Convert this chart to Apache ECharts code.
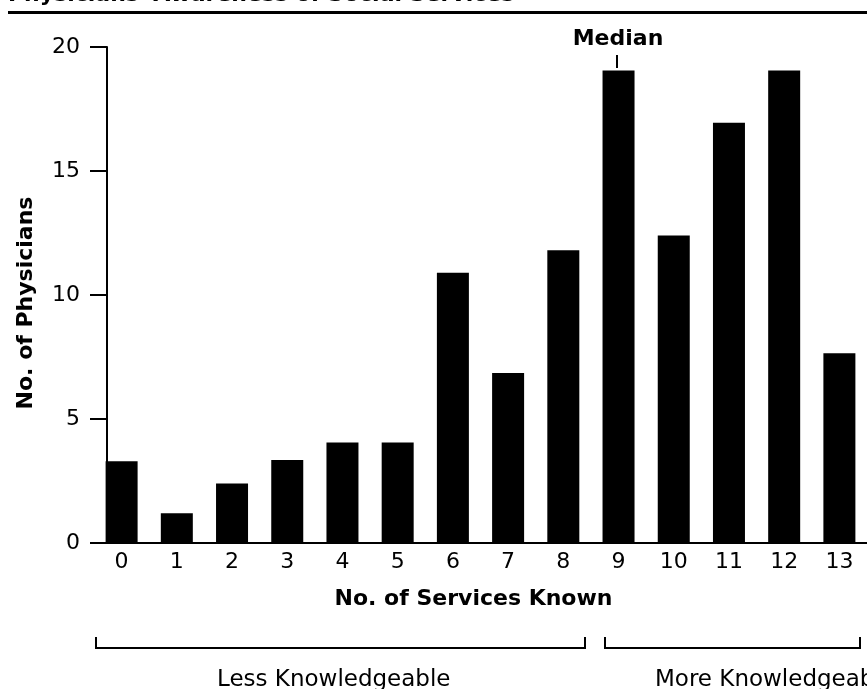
<!DOCTYPE html>
<html><head><meta charset="utf-8">
<script src="https://cdn.jsdelivr.net/npm/echarts@6/dist/echarts.min.js"></script>
<style>html,body{margin:0;padding:0;background:#fff}#c{width:867px;height:689px}</style>
</head><body><div id="c"></div>
<script>
const categories = ['0','1','2','3','4','5','6','7','8','9','10','11','12','13'];
const physicians = [3.3, 1.2, 2.4, 3.35, 4.05, 4.05, 10.9, 6.85, 11.8, 19.05, 12.4, 16.95, 19.05, 7.65];
const yTickValues = [0, 5, 10, 15, 20];
const titleText = "Physicians' Awareness of Social Services";
const xName = 'No. of Services Known';
const yName = 'No. of Physicians';
const medianCategory = '9';
const groupLabels = ['Less Knowledgeable', 'More Knowledgeable'];

const FONT = 'DejaVu Sans';
const chart = echarts.init(document.getElementById('c'), null, {renderer: 'canvas'});

const option = {
  backgroundColor: '#fff',
  animation: false,
  grid: {left: 94, right: -3, top: 47, bottom: 146, containLabel: false},
  xAxis: {
    type: 'category',
    data: categories,
    boundaryGap: true,
    axisLine: {show: true, lineStyle: {color: '#000', width: 2}},
    axisTick: {show: false},
    axisLabel: {color: '#000', fontFamily: FONT, fontSize: 22, margin: 8, interval: 0},
    name: xName,
    nameLocation: 'middle',
    nameGap: 45,
    nameTextStyle: {color: '#000', fontFamily: FONT, fontSize: 22, fontWeight: 'bold', padding: [0, 14, 0, 0]},
    splitLine: {show: false}
  },
  yAxis: {
    type: 'value',
    min: yTickValues[0],
    max: yTickValues[yTickValues.length - 1],
    interval: yTickValues[1] - yTickValues[0],
    offset: -13,
    axisLine: {show: true, lineStyle: {color: '#000', width: 2}},
    axisTick: {show: true, length: 17, lineStyle: {color: '#000', width: 2}},
    axisLabel: {color: '#000', fontFamily: FONT, fontSize: 22, margin: 27},
    splitLine: {show: false},
    name: yName,
    nameLocation: 'middle',
    nameGap: 70,
    nameRotate: 90,
    nameTextStyle: {color: '#000', fontFamily: FONT, fontSize: 22, fontWeight: 'bold', padding: [0, 16, 0, 0]}
  },
  series: [{
    type: 'bar',
    data: physicians,
    barWidth: 32,
    itemStyle: {color: '#000'},
    silent: true
  }]
};
chart.setOption(option);

const mIdx = categories.indexOf(medianCategory);
const mPt = chart.convertToPixel({gridIndex: 0}, [mIdx, physicians[mIdx]]);
const mx = Math.round(mPt[0]) - 2;

chart.setOption({
  graphic: [
    {type: 'text', left: 8, top: -16, style: {text: titleText, fontFamily: FONT, fontSize: 22, fontWeight: 'bold', fill: '#000'}},
    {type: 'line', shape: {x1: 8, y1: 12.5, x2: 867, y2: 12.5}, style: {stroke: '#000', lineWidth: 3}},
    {type: 'text', x: mx + 1, y: 39, style: {text: 'Median', fontFamily: FONT, fontSize: 22, fontWeight: 'bold', fill: '#000', align: 'center', verticalAlign: 'middle'}},
    {type: 'line', shape: {x1: mx, y1: 55, x2: mx, y2: 68}, style: {stroke: '#000', lineWidth: 2}},
    {type: 'polyline', shape: {points: [[96, 637], [96, 648], [585, 648], [585, 637]]}, style: {stroke: '#000', lineWidth: 2, fill: null}},
    {type: 'polyline', shape: {points: [[605, 637], [605, 648], [860, 648], [860, 637]]}, style: {stroke: '#000', lineWidth: 2, fill: null}},
    {type: 'text', x: 217, y: 680, style: {text: groupLabels[0], fontFamily: FONT, fontSize: 23, fill: '#000', align: 'left', verticalAlign: 'middle'}},
    {type: 'text', x: 655, y: 680, style: {text: groupLabels[1], fontFamily: FONT, fontSize: 23, fill: '#000', align: 'left', verticalAlign: 'middle'}}
  ]
});
</script>
</body></html>
